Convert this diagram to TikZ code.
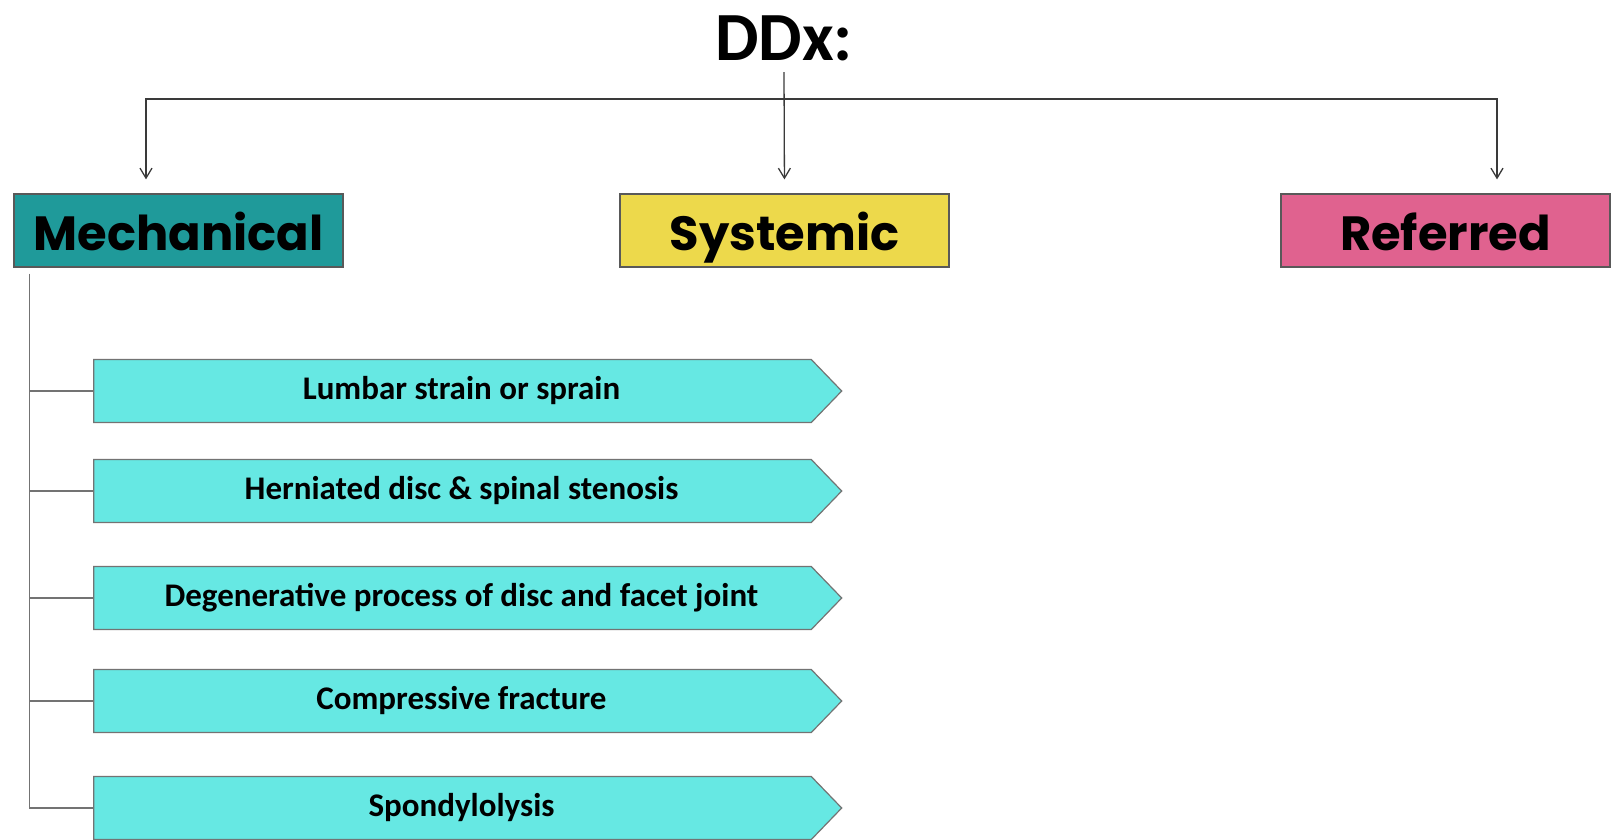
\documentclass[tikz,border=0pt]{standalone}
\usepackage{fontspec}
\setmainfont{Carlito}
\newfontfamily\gothic{Poppins}
\usepackage{tikz}
\usetikzlibrary{arrows.meta,shapes.symbols,calc}
\definecolor{mechcol}{HTML}{1F9A9A}
\definecolor{syscol}{HTML}{EDD94B}
\definecolor{refcol}{HTML}{E0628F}
\definecolor{itemcol}{HTML}{66E8E3}
\definecolor{wirecol}{HTML}{3A3A3A}
\tikzstyle{headbox}=[draw=black!65, line width=1.2pt, minimum width=329pt, minimum height=73pt, inner sep=0pt, text height=39pt, text depth=0pt, font=\gothic\bfseries\fontsize{48}{56}\selectfont]
\tikzstyle{itembox}=[shape=signal, signal to=east, signal pointer angle=92, draw=black!55, line width=1.2pt, fill=itemcol, minimum width=748pt, minimum height=63pt, inner sep=0pt, font=\bfseries\fontsize{33}{38}\selectfont]
\tikzstyle{wire}=[draw=wirecol, line width=1.3pt]
\tikzstyle{twoheads}=[{Straight Barb[length=10pt,width=12pt]}-{Straight Barb[length=10pt,width=12pt]}]
\tikzstyle{downhead}=[-{Straight Barb[length=10pt,width=12pt]}]
\newcommand{\ddxitem}[3]{
	\node[itembox] (#1) at (452.5,#2) {\hspace*{18pt}#3};
}

\begin{document}
\begin{tikzpicture}[x=1pt,y=-1pt]
%
\clip (0,0) rectangle (1614,839);
	\node[font=\bfseries\fontsize{69}{70}\selectfont, anchor=base] (d) at (784,60) {DDx:};
	\node[headbox, fill=mechcol] (m) at (178.5,230.5) {Mechanical};
	\node[headbox, fill=syscol] (s) at (784.5,230.5) {Systemic};
	\node[headbox, fill=refcol] (f) at (1445.5,230.5) {Referred};
%
	\ddxitem{i1}{391}{Lumbar strain or sprain}
	\ddxitem{i2}{491}{Herniated disc \& spinal stenosis}
	\ddxitem{i3}{598}{Degenerative process of disc and facet joint}
	\ddxitem{i4}{701}{Compressive fracture}
	\ddxitem{i5}{808}{Spondylolysis}
%
	\coordinate (d0) at ($ (d.base) + (0,12) $);
	\coordinate (l) at (146,99);
	\coordinate (r) at (1497,99);
	\coordinate (t) at ($ (m.south west) + (16,6) $);
%
	\draw[wire, downhead, shorten >=14pt] (d0) -- (s.north);
	\draw[wire, twoheads, shorten <=14pt, shorten >=14pt] (l |- m.north) -- (l) -- (r) -- (r |- f.north);
	\draw[wire, draw=black!55] (t) |- (i5.west);
	\foreach \n in {1,...,4}
		\draw[wire, draw=black!55] (t |- i\n.west) -- (i\n.west);
\end{tikzpicture}
\end{document}
